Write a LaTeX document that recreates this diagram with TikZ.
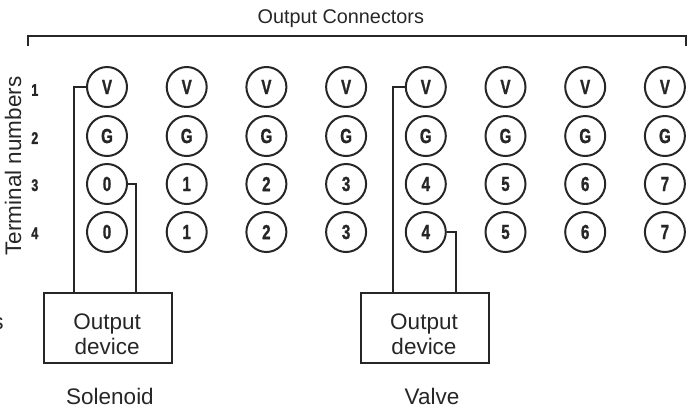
\documentclass[tikz,border=0pt]{standalone}
\usepackage{fontspec}
\setmainfont{Liberation Sans}
\newfontfamily\pinfont[FakeStretch=0.74,FakeBold=1.2]{Liberation Sans Bold}
\tikzset{
    wire/.style={line width=0.5mm, black!85},
    pin/.style={draw, circle, line width=0.5mm, black!85, minimum size=1cm, inner sep=0pt, font=\pinfont\fontsize{14.5}{14.5}\selectfont},
    rownum/.style={font=\pinfont\fontsize{12}{12}\selectfont, black!85},
    device/.style={draw, line width=0.5mm, black!85, minimum width=3.2cm, minimum height=1.77cm, inner sep=0pt},
    caption/.style={font=\fontsize{16}{18}\selectfont, black!85}
}
\begin{document}
\begin{tikzpicture}
    \useasboundingbox (0, 0) rectangle (17.325, -10.175);

    \node[caption, font=\fontsize{14.1}{14.1}\selectfont] (title) at (8.52, -0.47) {Output Connectors};
    \coordinate (bracketl) at (0.69, -1.15);
    \coordinate (bracketr) at (17.14, -1.15);
    \draw[wire] (bracketl) |- (8.9, -0.89) -| (bracketr);

    \node[caption, rotate=90] (terminals) at (0.33, -4.15) {Terminal numbers};
    \node[rownum] (row1) at (0.87, -2.25) {1};
    \node[rownum] (row2) at (0.87, -3.45) {2};
    \node[rownum] (row3) at (0.87, -4.63) {3};
    \node[rownum] (row4) at (0.87, -5.83) {4};

    % the eight connectors
    \foreach \i in {0,...,7} {
        \pgfmathsetmacro{\colx}{2.675 + 1.9925*\i}
        \node[pin] (v\i) at (\colx, -2.175) {V};
        \node[pin] (g\i) at (\colx, -3.4) {G};
        \node[pin] (a\i) at (\colx, -4.6) {\i};
        \node[pin] (b\i) at (\colx, -5.8) {\i};
    }

    \node[device] (solenoidbox) at (2.697, -8.2) {};
    \node[caption, align=center] (solenoidtext) at (2.68, -8.36) {Output\\device};
    \node[device] (valvebox) at (10.613, -8.2) {};
    \node[caption, align=center] (valvetext) at (10.6, -8.36) {Output\\device};
    \node[caption] (solenoid) at (2.75, -9.9) {Solenoid};
    \node[caption] (valve) at (10.8, -9.9) {Valve};
    \node[caption] (cutoff) at (-0.05, -8.1) {s};

    \coordinate (s1) at (1.85, -7.35);
    \coordinate (s2) at (3.41, -7.35);
    \coordinate (k1) at (9.83, -7.35);
    \coordinate (k2) at (11.4, -7.35);
    \draw[wire] (v0.west) -| (s1);
    \draw[wire] (a0.east) -| (s2);
    \draw[wire] (v4.west) -| (k1);
    \draw[wire] (b4.east) -| (k2);
\end{tikzpicture}
\end{document}
